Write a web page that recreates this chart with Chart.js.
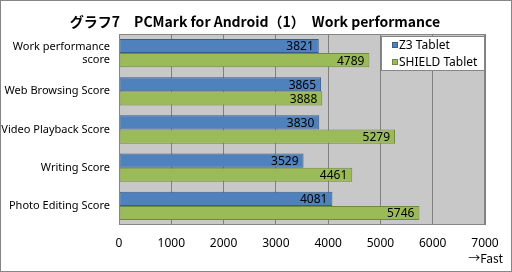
<!DOCTYPE html>
<html>
<head>
<meta charset="utf-8">
<script src="https://cdn.jsdelivr.net/npm/chart.js@4"></script>
<style>
  html, body { margin: 0; padding: 0; background: #fff; }
  #wrap { width: 512px; height: 272px; }
</style>
</head>
<body>
<div id="wrap"><canvas id="myChart" width="512" height="272"></canvas></div>
<script>
var categories = [['Work performance', 'score'], 'Web Browsing Score', 'Video Playback Score', 'Writing Score', 'Photo Editing Score'];
var seriesNames = ['Z3 Tablet', 'SHIELD Tablet'];
var z3Values = [3821, 3865, 3830, 3529, 4081];
var shieldValues = [4789, 3888, 5279, 4461, 5746];
var xTicks = [0, 1000, 2000, 3000, 4000, 5000, 6000, 7000];

var titleText = 'グラフ7\u3000PCMark for Android（1）\u3000Work performance';
var labelFont = '12px "Noto Sans", "Noto Sans CJK JP", sans-serif';

// frame, plot background, title, legend box, value labels
var decorations = {
    id: 'decorations',
    beforeDraw: function (chart) {
        var ctx = chart.ctx, a = chart.chartArea;
        ctx.save();
        ctx.fillStyle = '#ffffff';
        ctx.fillRect(0, 0, chart.width, chart.height);
        ctx.strokeStyle = '#868686';
        ctx.lineWidth = 1;
        ctx.strokeRect(0.5, 0.5, chart.width - 1, chart.height - 1);
        ctx.fillStyle = '#c8c8c8';
        ctx.fillRect(a.left, a.top, a.right - a.left, a.bottom - a.top);
        ctx.fillStyle = '#000';
        ctx.font = 'bold 14px "Noto Sans CJK JP", sans-serif';
        ctx.textAlign = 'center';
        ctx.textBaseline = 'middle';
        ctx.fillText(titleText, 255, 22);
        ctx.restore();
    },
    afterDraw: function (chart) {
        var ctx = chart.ctx, a = chart.chartArea;
        ctx.save();
        ctx.strokeStyle = '#868686';
        ctx.lineWidth = 1;
        ctx.strokeRect(a.left + 0.5, a.top + 0.5, a.right - a.left - 1, a.bottom - a.top - 1);

        // value labels
        ctx.font = labelFont;
        ctx.fillStyle = '#000';
        ctx.textAlign = 'right';
        ctx.textBaseline = 'middle';
        chart.data.datasets.forEach(function (ds, i) {
            chart.getDatasetMeta(i).data.forEach(function (bar, j) {
                ctx.fillText(String(ds.data[j]), bar.x - 5, bar.y + 1);
            });
        });

        // legend box
        var lx = 381, ly = 36, lw = 104, lh = 35;
        ctx.fillStyle = '#ffffff';
        ctx.fillRect(lx, ly, lw, lh);
        ctx.strokeStyle = '#868686';
        ctx.strokeRect(lx + 0.5, ly + 0.5, lw - 1, lh - 1);
        ctx.textAlign = 'left';
        chart.data.datasets.forEach(function (ds, i) {
            var y = ly + 9 + i * 17;
            ctx.fillStyle = ds.backgroundColor;
            ctx.fillRect(lx + 11, y - 3, 6, 6);
            ctx.strokeStyle = ds.borderColor;
            ctx.strokeRect(lx + 11.5, y - 2.5, 5, 5);
            ctx.fillStyle = '#000';
            ctx.fillText(ds.label, lx + 18, y + 1);
        });

        // axis note
        ctx.font = '12px "Noto Sans CJK JP", sans-serif';
        ctx.textAlign = 'right';
        ctx.fillText('\u2192Fast', 503, 258);
        ctx.restore();
    }
};

var chartId = document.getElementById('myChart').getContext('2d');

var myChart = new Chart(chartId, {
    type: 'bar',
    data: {
        labels: categories,
        datasets: [{
            label: seriesNames[0],
            data: z3Values,
            backgroundColor: '#4f81bd',
            borderColor: '#385d8a',
            borderWidth: 1,
            borderSkipped: false
        }, {
            label: seriesNames[1],
            data: shieldValues,
            backgroundColor: '#9bbb59',
            borderColor: '#71893f',
            borderWidth: 1,
            borderSkipped: false
        }]
    },
    options: {
        indexAxis: 'y',
        responsive: false,
        animation: false,
        devicePixelRatio: 1,
        categoryPercentage: 0.74,
        barPercentage: 1.0,
        layout: { padding: { top: 34, right: 27, bottom: 0, left: 0 } },
        plugins: {
            legend: { display: false },
            title: { display: false },
            tooltip: { enabled: false }
        },
        scales: {
            x: {
                min: 0,
                max: 7000,
                afterBuildTicks: function (scale) {
                    scale.ticks = xTicks.map(function (v) { return { value: v }; });
                },
                afterFit: function (scale) { scale.height = 47; },
                grid: { color: '#808080', drawTicks: false },
                border: { display: false },
                ticks: {
                    color: '#000',
                    padding: 11,
                    maxRotation: 0,
                    callback: function (v) { return String(v); },
                    font: { family: '"Noto Sans", sans-serif', size: 12 }
                }
            },
            y: {
                afterFit: function (scale) { scale.width = 119; },
                grid: { display: false, drawTicks: false },
                border: { display: false },
                ticks: {
                    color: '#000',
                    padding: 9,
                    font: { family: '"Noto Sans", sans-serif', size: 11 }
                }
            }
        }
    },
    plugins: [decorations]
});
</script>
</body>
</html>
